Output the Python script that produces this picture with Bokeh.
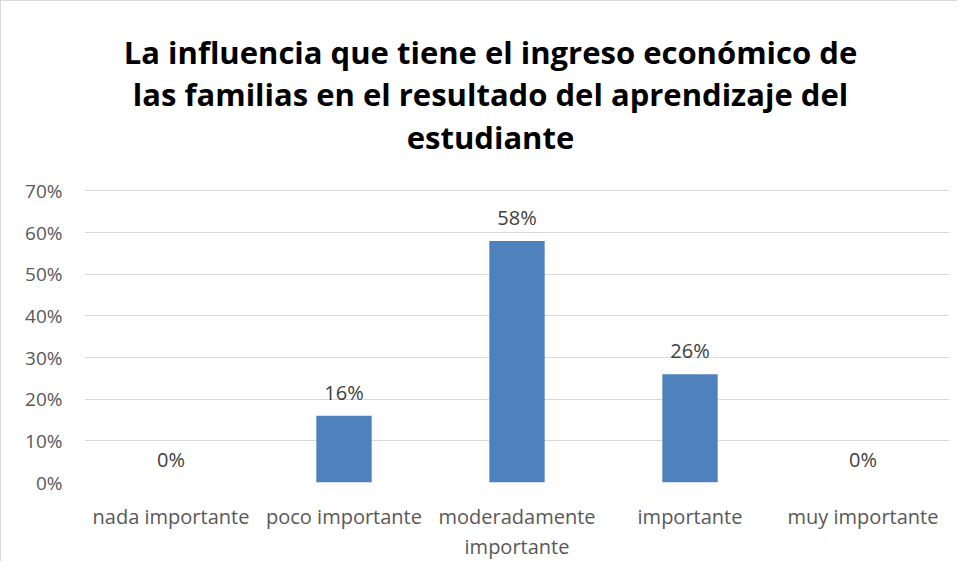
from bokeh.plotting import figure
from bokeh.models import Label, LinearAxis, NumeralTickFormatter, FixedTicker, Range1d
from bokeh.core.properties import value
from bokeh.embed import file_html
from bokeh.resources import INLINE

categories = ["nada importante", "poco importante", "moderadamente importante", "importante", "muy importante"]
label_line1 = ["nada importante", "poco importante", "moderadamente", "importante", "muy importante"]
label_line2 = ["", "", "importante", "", ""]
values = [0.00, 0.16, 0.58, 0.26, 0.00]
value_labels = ["0%", "16%", "58%", "26%", "0%"]
y_ticks = [0, 0.1, 0.2, 0.3, 0.4, 0.5, 0.6, 0.7]
title_lines = ["La influencia que tiene el ingreso económico de",
               "las familias en el resultado del aprendizaje del",
               "estudiante"]

FONT = "Open Sans"
xpos = list(range(len(categories)))

# layout: the frame reaches the top of the figure so the title can sit inside it
W, H = 957, 561
B_LEFT, B_RIGHT, B_BOTTOM = 83, 9, 76
PLOT_TOP = 191                       # where the 70% gridline sits (figure px)
frame_h = H - B_BOTTOM
y_end = y_ticks[-1] * frame_h / (frame_h - PLOT_TOP)

p = figure(x_range=Range1d(-0.5, len(categories) - 0.5), y_range=Range1d(0, y_end),
           width=W, height=H, output_backend="svg", toolbar_location=None,
           min_border_left=B_LEFT, min_border_right=B_RIGHT, min_border_top=0,
           min_border_bottom=B_BOTTOM)

# title lines (screen units, measured from the frame's bottom-left corner)
title_sy = [frame_h - 54, frame_h - 96, frame_h - 139]
for line, sy in zip(title_lines, title_sy):
    p.add_layout(Label(x=406, y=sy, x_units="screen", y_units="screen", text=line,
                       text_align="center", text_baseline="middle", text_font=FONT,
                       text_font_size="31px", text_font_style="bold", text_color="#000000"))

p.vbar(x=xpos, top=values, width=0.32, fill_color="#4F81BD", line_color=None)
p.text(x=xpos, y=values, text=value_labels, text_align="center", text_baseline="bottom",
       y_offset=-10, text_font=value(FONT), text_font_size="20px", text_color="#404040")

ax2 = LinearAxis(ticker=FixedTicker(ticks=xpos),
                 major_label_overrides={i: t for i, t in zip(xpos, label_line2)},
                 major_label_standoff=0)
p.add_layout(ax2, "below")

p.xaxis[0].ticker = FixedTicker(ticks=xpos)
p.xaxis[0].major_label_overrides = {i: t for i, t in zip(xpos, label_line1)}
p.xaxis[0].major_label_standoff = 20
p.yaxis.ticker = FixedTicker(ticks=y_ticks)
p.yaxis.formatter = NumeralTickFormatter(format="0%")
p.ygrid.ticker = FixedTicker(ticks=y_ticks)
p.ygrid.grid_line_color = "#d9d9d9"
p.xgrid.grid_line_color = None
for ax in (p.xaxis[0], p.yaxis[0], ax2):
    ax.axis_line_color = None
    ax.major_tick_line_color = None
    ax.minor_tick_line_color = None
    ax.major_tick_out = 0
    ax.major_tick_in = 0
    ax.major_label_text_font = FONT
    ax.major_label_text_font_size = "19px"
    ax.major_label_text_color = "#595959"
p.xaxis.major_label_text_font_size = "20px"
p.yaxis.major_label_standoff = 22
p.outline_line_color = None
p.styles = {"border-top": "1px solid #d9d9d9", "border-left": "1px solid #d9d9d9"}

open("out.html", "w").write(file_html(p, INLINE))
